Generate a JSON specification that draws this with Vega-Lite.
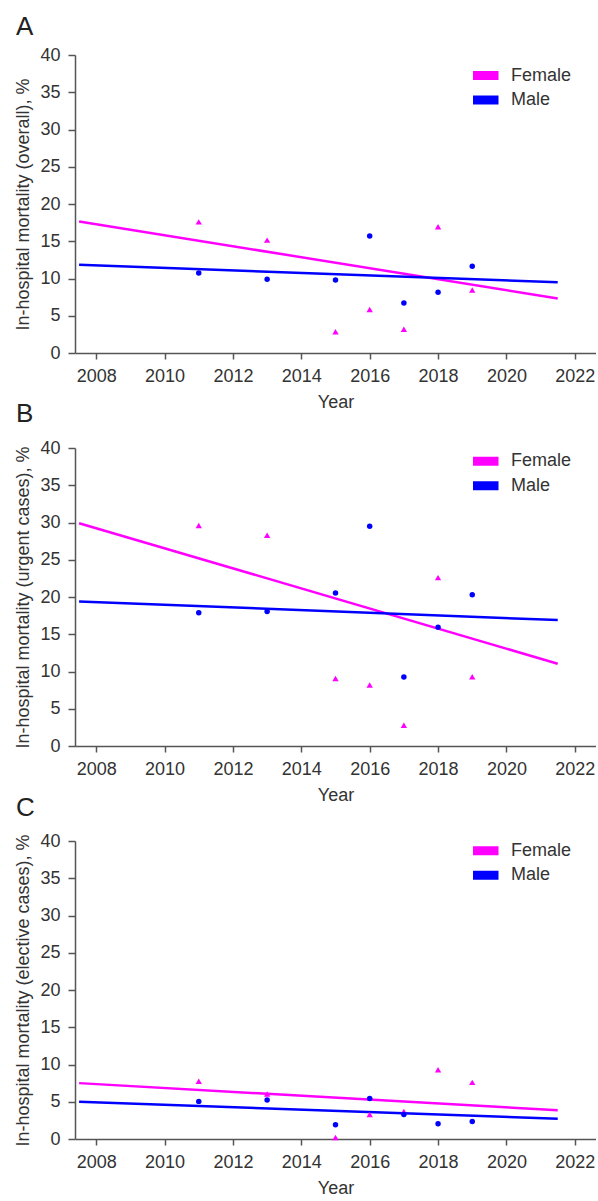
{
  "$schema": "https://vega.github.io/schema/vega-lite/v6.json",
  "padding": {"left": 14, "top": 14, "right": 0, "bottom": 0},
  "spacing": -10,
  "datasets": {
    "points": [
      {"panel": "A", "sex": "Female", "year": 2011, "value": 17.6},
      {"panel": "A", "sex": "Female", "year": 2013, "value": 15.15},
      {"panel": "A", "sex": "Female", "year": 2015, "value": 2.85},
      {"panel": "A", "sex": "Female", "year": 2016, "value": 5.85},
      {"panel": "A", "sex": "Female", "year": 2017, "value": 3.2},
      {"panel": "A", "sex": "Female", "year": 2018, "value": 16.95},
      {"panel": "A", "sex": "Female", "year": 2019, "value": 8.45},
      {"panel": "A", "sex": "Male", "year": 2011, "value": 10.75},
      {"panel": "A", "sex": "Male", "year": 2013, "value": 9.9},
      {"panel": "A", "sex": "Male", "year": 2015, "value": 9.8},
      {"panel": "A", "sex": "Male", "year": 2016, "value": 15.7},
      {"panel": "A", "sex": "Male", "year": 2017, "value": 6.7},
      {"panel": "A", "sex": "Male", "year": 2018, "value": 8.15},
      {"panel": "A", "sex": "Male", "year": 2019, "value": 11.65},
      {"panel": "B", "sex": "Female", "year": 2011, "value": 29.6},
      {"panel": "B", "sex": "Female", "year": 2013, "value": 28.3},
      {"panel": "B", "sex": "Female", "year": 2015, "value": 9.05},
      {"panel": "B", "sex": "Female", "year": 2016, "value": 8.2},
      {"panel": "B", "sex": "Female", "year": 2017, "value": 2.8},
      {"panel": "B", "sex": "Female", "year": 2018, "value": 22.6},
      {"panel": "B", "sex": "Female", "year": 2019, "value": 9.3},
      {"panel": "B", "sex": "Male", "year": 2011, "value": 17.9},
      {"panel": "B", "sex": "Male", "year": 2013, "value": 18.05},
      {"panel": "B", "sex": "Male", "year": 2015, "value": 20.55},
      {"panel": "B", "sex": "Male", "year": 2016, "value": 29.5},
      {"panel": "B", "sex": "Male", "year": 2017, "value": 9.25},
      {"panel": "B", "sex": "Male", "year": 2018, "value": 15.95},
      {"panel": "B", "sex": "Male", "year": 2019, "value": 20.3},
      {"panel": "C", "sex": "Female", "year": 2011, "value": 7.75},
      {"panel": "C", "sex": "Female", "year": 2013, "value": 6.05},
      {"panel": "C", "sex": "Female", "year": 2015, "value": 0.2},
      {"panel": "C", "sex": "Female", "year": 2016, "value": 3.3},
      {"panel": "C", "sex": "Female", "year": 2017, "value": 3.7},
      {"panel": "C", "sex": "Female", "year": 2018, "value": 9.3},
      {"panel": "C", "sex": "Female", "year": 2019, "value": 7.6},
      {"panel": "C", "sex": "Male", "year": 2011, "value": 5.05},
      {"panel": "C", "sex": "Male", "year": 2013, "value": 5.25},
      {"panel": "C", "sex": "Male", "year": 2015, "value": 1.9},
      {"panel": "C", "sex": "Male", "year": 2016, "value": 5.45},
      {"panel": "C", "sex": "Male", "year": 2017, "value": 3.3},
      {"panel": "C", "sex": "Male", "year": 2018, "value": 2.05},
      {"panel": "C", "sex": "Male", "year": 2019, "value": 2.35}
    ],
    "lines": [
      {"panel": "A", "sex": "Female", "year": 2007.5, "value": 17.66},
      {"panel": "A", "sex": "Female", "year": 2021.5, "value": 7.31},
      {"panel": "A", "sex": "Male", "year": 2007.5, "value": 11.83},
      {"panel": "A", "sex": "Male", "year": 2021.5, "value": 9.5},
      {"panel": "B", "sex": "Female", "year": 2007.5, "value": 29.9},
      {"panel": "B", "sex": "Female", "year": 2021.5, "value": 11.05},
      {"panel": "B", "sex": "Male", "year": 2007.5, "value": 19.4},
      {"panel": "B", "sex": "Male", "year": 2021.5, "value": 16.9},
      {"panel": "C", "sex": "Female", "year": 2007.5, "value": 7.5},
      {"panel": "C", "sex": "Female", "year": 2021.5, "value": 3.85},
      {"panel": "C", "sex": "Male", "year": 2007.5, "value": 5.0},
      {"panel": "C", "sex": "Male", "year": 2021.5, "value": 2.73}
    ]
  },
  "config": {
    "font": "Liberation Sans",
    "view": {"stroke": null},
    "axis": {
      "labelFont": "Liberation Sans", "labelFontSize": 18, "labelColor": "#333333",
      "titleFont": "Liberation Sans", "titleFontSize": 18, "titleFontWeight": "normal", "titleColor": "#333333",
      "domainColor": "#555555", "domainWidth": 1.5, "tickColor": "#555555", "tickWidth": 1.5,
      "tickSize": 7, "labelPadding": 8, "grid": false, "labelOverlap": false
    },
    "axisX": {"tickSize": 6, "titlePadding": 8},
    "axisY": {"titlePadding": 7},
    "legend": {
      "orient": "none", "title": null, "padding": 0,
      "labelFont": "Liberation Sans", "labelFontSize": 18, "labelColor": "#333333", "symbolOpacity": 1
    },
    "title": {"font": "Liberation Sans", "fontSize": 26, "fontWeight": "normal", "anchor": "start", "color": "#222222", "dx": 1}
  },
  "resolve": {"scale": {"color": "independent"}, "legend": {"color": "independent"}},
  "vconcat": [
    {
      "title": {"text": "A", "offset": 6},
      "width": 521, "height": 298,
      "encoding": {
        "x": {"field": "year", "type": "quantitative", "scale": {"domain": [2007.38, 2022.62], "nice": false, "zero": false}, "axis": {"title": "Year", "values": [2008, 2010, 2012, 2014, 2016, 2018, 2020, 2022], "format": "d"}},
        "y": {"field": "value", "type": "quantitative", "scale": {"domain": [0, 40], "nice": false}, "axis": {"title": "In-hospital mortality (overall), %", "values": [0, 5, 10, 15, 20, 25, 30, 35, 40], "labelOverlap": false}}
      },
      "layer": [
        {
          "data": {"name": "lines"},
          "transform": [{"filter": "datum.panel === 'A'"}],
          "mark": {"type": "line", "strokeWidth": 2.5},
          "encoding": {
            "color": {"field": "sex", "type": "nominal", "scale": {"domain": ["Female", "Male"], "range": ["#FF00FF", "#0000FF"]}, "legend": {"legendX": 398, "legendY": 11.5, "symbolType": "M-2.5,0H2.5", "symbolStrokeWidth": 9, "symbolSize": 144, "labelOffset": 17, "rowPadding": 6.5, "clipHeight": 18}}
          }
        },
        {
          "data": {"name": "points"},
          "transform": [{"filter": "datum.panel === 'A' && datum.sex === 'Female'"}],
          "mark": {"type": "point", "shape": "triangle-up", "filled": true, "opacity": 1, "size": 40, "color": "#FF00FF"}
        },
        {
          "data": {"name": "points"},
          "transform": [{"filter": "datum.panel === 'A' && datum.sex === 'Male'"}],
          "mark": {"type": "point", "shape": "circle", "filled": true, "opacity": 1, "size": 30, "color": "#0000FF"}
        }
      ]
    },
    {
      "title": {"text": "B", "offset": 12},
      "width": 521, "height": 298,
      "encoding": {
        "x": {"field": "year", "type": "quantitative", "scale": {"domain": [2007.38, 2022.62], "nice": false, "zero": false}, "axis": {"title": "Year", "values": [2008, 2010, 2012, 2014, 2016, 2018, 2020, 2022], "format": "d"}},
        "y": {"field": "value", "type": "quantitative", "scale": {"domain": [0, 40], "nice": false}, "axis": {"title": "In-hospital mortality (urgent cases), %", "values": [0, 5, 10, 15, 20, 25, 30, 35, 40], "labelOverlap": false}}
      },
      "layer": [
        {
          "data": {"name": "lines"},
          "transform": [{"filter": "datum.panel === 'B'"}],
          "mark": {"type": "line", "strokeWidth": 2.5},
          "encoding": {
            "color": {"field": "sex", "type": "nominal", "scale": {"domain": ["Female", "Male"], "range": ["#FF00FF", "#0000FF"]}, "legend": {"legendX": 398, "legendY": 4.3, "symbolType": "M-2.5,0H2.5", "symbolStrokeWidth": 9, "symbolSize": 144, "labelOffset": 17, "rowPadding": 6.5, "clipHeight": 18}}
          }
        },
        {
          "data": {"name": "points"},
          "transform": [{"filter": "datum.panel === 'B' && datum.sex === 'Female'"}],
          "mark": {"type": "point", "shape": "triangle-up", "filled": true, "opacity": 1, "size": 40, "color": "#FF00FF"}
        },
        {
          "data": {"name": "points"},
          "transform": [{"filter": "datum.panel === 'B' && datum.sex === 'Male'"}],
          "mark": {"type": "point", "shape": "circle", "filled": true, "opacity": 1, "size": 30, "color": "#0000FF"}
        }
      ]
    },
    {
      "title": {"text": "C", "offset": 11.5},
      "width": 521, "height": 298,
      "encoding": {
        "x": {"field": "year", "type": "quantitative", "scale": {"domain": [2007.38, 2022.62], "nice": false, "zero": false}, "axis": {"title": "Year", "values": [2008, 2010, 2012, 2014, 2016, 2018, 2020, 2022], "format": "d"}},
        "y": {"field": "value", "type": "quantitative", "scale": {"domain": [0, 40], "nice": false}, "axis": {"title": "In-hospital mortality (elective cases), %", "values": [0, 5, 10, 15, 20, 25, 30, 35, 40], "labelOverlap": false}}
      },
      "layer": [
        {
          "data": {"name": "lines"},
          "transform": [{"filter": "datum.panel === 'C'"}],
          "mark": {"type": "line", "strokeWidth": 2.5},
          "encoding": {
            "color": {"field": "sex", "type": "nominal", "scale": {"domain": ["Female", "Male"], "range": ["#FF00FF", "#0000FF"]}, "legend": {"legendX": 398, "legendY": 0.8, "symbolType": "M-2.5,0H2.5", "symbolStrokeWidth": 9, "symbolSize": 144, "labelOffset": 17, "rowPadding": 6.5, "clipHeight": 18}}
          }
        },
        {
          "data": {"name": "points"},
          "transform": [{"filter": "datum.panel === 'C' && datum.sex === 'Female'"}],
          "mark": {"type": "point", "shape": "triangle-up", "filled": true, "opacity": 1, "size": 40, "color": "#FF00FF"}
        },
        {
          "data": {"name": "points"},
          "transform": [{"filter": "datum.panel === 'C' && datum.sex === 'Male'"}],
          "mark": {"type": "point", "shape": "circle", "filled": true, "opacity": 1, "size": 30, "color": "#0000FF"}
        }
      ]
    }
  ]
}
